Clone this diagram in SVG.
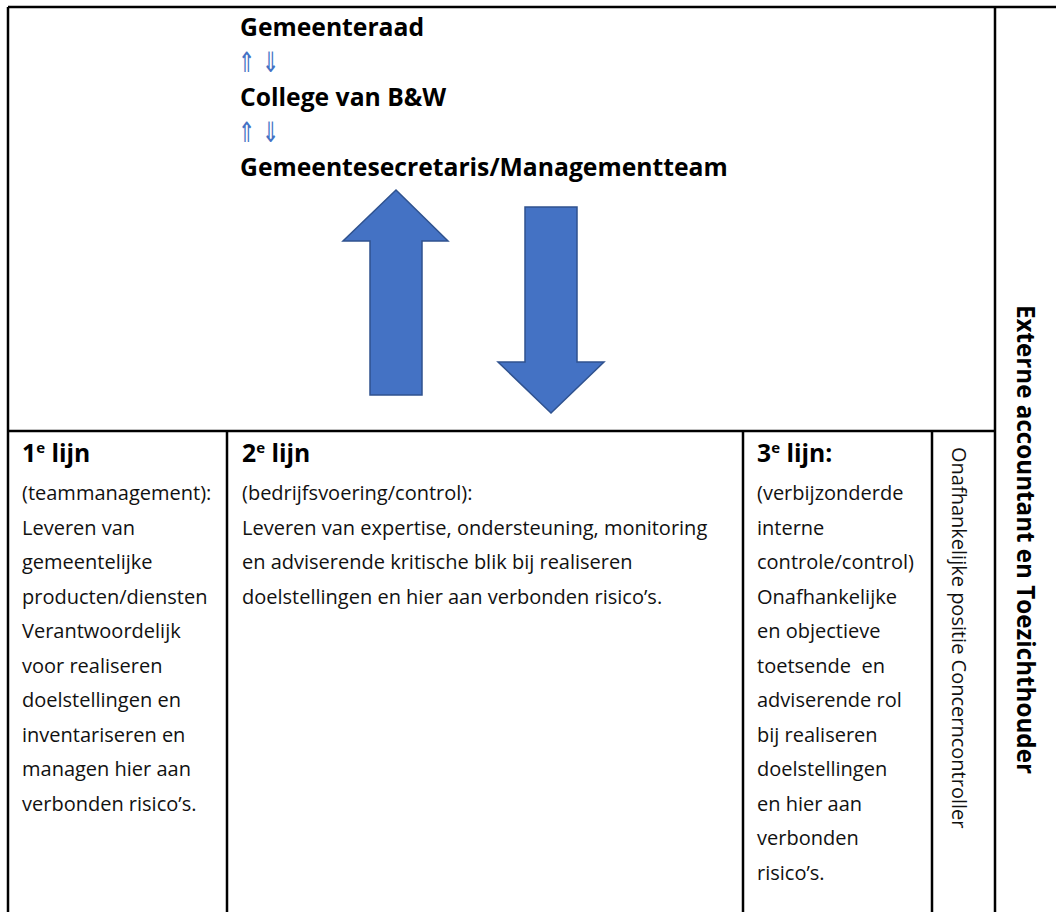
<svg xmlns="http://www.w3.org/2000/svg" width="1056" height="912" viewBox="0 0 1056 912">
<style>
.ln{stroke:#000;stroke-width:2.5;fill:none}
.t{font-family:"Open Sans","Noto Sans",sans-serif;font-size:20px;fill:#111}
.b{font-family:"Open Sans","Noto Sans",sans-serif;font-size:24.7px;font-weight:bold;fill:#000}
.sym{font-family:"DejaVu Sans",sans-serif;font-size:28px;fill:#4472C4}
.arr{fill:#4472C4;stroke:#2F528F;stroke-width:1.5}
.sup{font-size:15px}
</style>
<rect width="1056" height="912" fill="#fff"/>
<g id="grid">
<line class="ln" x1="8" y1="7" x2="1056" y2="7"/>
<line class="ln" x1="8" y1="7" x2="8" y2="912"/>
<line class="ln" x1="995" y1="7" x2="995" y2="912"/>
<line class="ln" x1="8" y1="431" x2="995" y2="431"/>
<line class="ln" x1="227" y1="431" x2="227" y2="912"/>
<line class="ln" x1="743" y1="431" x2="743" y2="912"/>
<line class="ln" x1="932" y1="431" x2="932" y2="912"/>
</g>
<g id="hierarchy">
<text class="b" x="240" y="36">Gemeenteraad</text>
<text class="sym" transform="translate(238,72) scale(0.75,1)">⇑</text>
<text class="sym" transform="translate(262,72) scale(0.75,1)">⇓</text>
<text class="b" x="240" y="106">College van B&amp;W</text>
<text class="sym" transform="translate(238,142) scale(0.75,1)">⇑</text>
<text class="sym" transform="translate(262,142) scale(0.75,1)">⇓</text>
<text class="b" x="240" y="176">Gemeentesecretaris/Managementteam</text>
</g>
<g id="connectors">
<polygon class="arr" points="396,190 448,241 422,241 422,395 370,395 370,241 343,241"/>
<polygon class="arr" points="525,207 577,207 577,362 604,362 551,413 498,362 525,362"/>
</g>
<g id="lijn1">
<text class="b" x="22" y="462">1<tspan class="sup" dy="-9">e</tspan><tspan dy="9"> lijn</tspan></text>
<text class="t" x="22" y="500">(teammanagement):</text>
<text class="t" x="22" y="534.5">Leveren van</text>
<text class="t" x="22" y="569">gemeentelijke</text>
<text class="t" x="22" y="603.5">producten/diensten</text>
<text class="t" x="22" y="638">Verantwoordelijk</text>
<text class="t" x="22" y="672.5">voor realiseren</text>
<text class="t" x="22" y="707">doelstellingen en</text>
<text class="t" x="22" y="741.5">inventariseren en</text>
<text class="t" x="22" y="776">managen hier aan</text>
<text class="t" x="22" y="810.5">verbonden risico’s.</text>
</g>
<g id="lijn2">
<text class="b" x="242" y="462">2<tspan class="sup" dy="-9">e</tspan><tspan dy="9"> lijn</tspan></text>
<text class="t" x="242" y="500">(bedrijfsvoering/control):</text>
<text class="t" x="242" y="534.5">Leveren van expertise, ondersteuning, monitoring</text>
<text class="t" x="242" y="569">en adviserende kritische blik bij realiseren</text>
<text class="t" x="242" y="603.5">doelstellingen en hier aan verbonden risico’s.</text>
</g>
<g id="lijn3">
<text class="b" x="757" y="462">3<tspan class="sup" dy="-9">e</tspan><tspan dy="9"> lijn:</tspan></text>
<text class="t" x="757" y="500">(verbijzonderde</text>
<text class="t" x="757" y="534.5">interne</text>
<text class="t" x="757" y="569">controle/control)</text>
<text class="t" x="757" y="603.5">Onafhankelijke</text>
<text class="t" x="757" y="638">en objectieve</text>
<text class="t" x="757" y="672.5" xml:space="preserve">toetsende  en</text>
<text class="t" x="757" y="707">adviserende rol</text>
<text class="t" x="757" y="741.5">bij realiseren</text>
<text class="t" x="757" y="776">doelstellingen</text>
<text class="t" x="757" y="810.5">en hier aan</text>
<text class="t" x="757" y="845">verbonden</text>
<text class="t" x="757" y="879.5">risico’s.</text>
</g>
<g id="concerncontroller">
<text class="t" transform="translate(952,447) rotate(90)">Onafhankelijke positie Concerncontroller</text>
</g>
<g id="extern">
<text class="b" style="font-size:24.2px" transform="translate(1017,305) rotate(90)">Externe accountant en Toezichthouder</text>
</g>
</svg>
